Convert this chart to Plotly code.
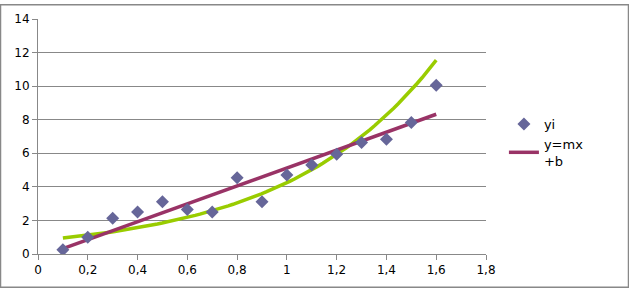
import numpy as np
import plotly.graph_objects as go

x_vals = [0.1, 0.2, 0.3, 0.4, 0.5, 0.6, 0.7, 0.8, 0.9, 1.0, 1.1, 1.2, 1.3, 1.4, 1.5, 1.6]
y_vals = [0.25, 1.0, 2.13, 2.5, 3.12, 2.65, 2.5, 4.55, 3.12, 4.7, 5.3, 5.95, 6.65, 6.83, 7.83, 10.05]

xa = np.array(x_vals)
ya = np.array(y_vals)
# least-squares trendlines (as in the original spreadsheet chart)
m, b = np.polyfit(xa, ya, 1)
kb, ka = np.polyfit(xa, np.log(ya), 1)
xs = np.linspace(xa.min(), xa.max(), 80)
lin_y = m * xs + b
exp_y = np.exp(ka) * np.exp(kb * xs)

fig = go.Figure()
fig.add_trace(go.Scatter(x=xs, y=exp_y, mode="lines", line=dict(color="#99cc00", width=3.5),
                         showlegend=False, hoverinfo="skip"))
fig.add_trace(go.Scatter(x=xs, y=lin_y, mode="lines", line=dict(color="#993366", width=3.5),
                         name="y=mx<br>+b"))
fig.add_trace(go.Scatter(x=x_vals, y=y_vals, mode="markers", name="yi",
                         marker=dict(symbol="diamond", size=10, color="#666699")))

fig.update_layout(
    width=629, height=289,
    margin=dict(l=38, r=143, t=15, b=35),
    paper_bgcolor="white", plot_bgcolor="white",
    separators=", ",
    font=dict(family="DejaVu Sans", size=12, color="black"),
    showlegend=True,
    legend=dict(x=1.04, y=0.617, xanchor="left", yanchor="top", traceorder="reversed",
                font=dict(size=13), itemwidth=30, bgcolor="rgba(0,0,0,0)", tracegroupgap=3),
    xaxis=dict(range=[0, 1.8], dtick=0.2, tick0=0, showgrid=False, zeroline=False,
               showline=True, linecolor="#888888", linewidth=1, ticks="outside",
               ticklen=5, tickcolor="#888888", tickformat="~r"),
    yaxis=dict(range=[0, 14], dtick=2, showgrid=True, gridcolor="#888888", gridwidth=1,
               zeroline=False, showline=True, linecolor="#888888", linewidth=1,
               ticks="outside", ticklen=5, tickcolor="#888888"),
)
fig.add_shape(type="rect", xref="paper", yref="paper", x0=-37.5/448, x1=1+142.5/448,
              y0=-34/239.5, y1=1+14.5/239.5, line=dict(color="#888888", width=1.5),
              layer="below")
fig.write_html("out.html")
